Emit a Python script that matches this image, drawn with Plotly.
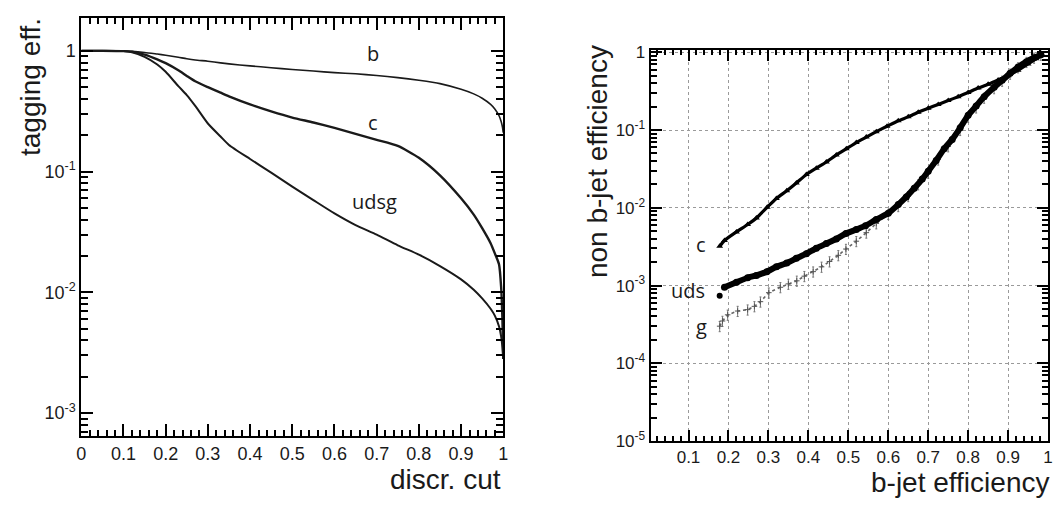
import plotly.graph_objects as go

# ---------------- data: left panel (tagging eff. vs discriminator cut) -------------
discr_cut = [0, 0.05, 0.1, 0.12, 0.15, 0.18, 0.2, 0.23, 0.25, 0.27, 0.3, 0.33, 0.35,
             0.4, 0.45, 0.5, 0.55, 0.6, 0.65, 0.7, 0.75, 0.8, 0.85, 0.9, 0.93, 0.95,
             0.97, 0.98, 0.99, 0.995, 0.998, 1.0]
eff_b = [1.0, 1.0, 0.995, 0.99, 0.97, 0.94, 0.92, 0.885, 0.86, 0.84, 0.82, 0.795, 0.78,
         0.75, 0.725, 0.70, 0.68, 0.66, 0.645, 0.625, 0.60, 0.57, 0.535, 0.48, 0.44, 0.405,
         0.36, 0.33, 0.29, 0.26, 0.235, 0.21]
eff_c = [1.0, 1.0, 0.995, 0.985, 0.93, 0.85, 0.79, 0.69, 0.62, 0.56, 0.50, 0.45, 0.42,
         0.36, 0.315, 0.28, 0.255, 0.23, 0.205, 0.183, 0.163, 0.13, 0.093, 0.06, 0.044,
         0.034, 0.0255, 0.021, 0.017, 0.011, 0.006, 0.0028]
eff_udsg = [1.0, 1.0, 0.995, 0.975, 0.89, 0.77, 0.67, 0.51, 0.43, 0.35, 0.25, 0.195, 0.166,
            0.127, 0.098, 0.075, 0.058, 0.045, 0.036, 0.030, 0.0245, 0.0205, 0.0165, 0.0128,
            0.0105, 0.0089, 0.0073, 0.0064, 0.0052, 0.0043, 0.0035, 0.0028]

# ---------------- data: right panel (non b-jet eff. vs b-jet eff.) -----------------
c_beff = [0.178, 0.19, 0.22, 0.248, 0.27, 0.297, 0.32, 0.346, 0.37, 0.395, 0.42, 0.445,
          0.47, 0.495, 0.52, 0.545, 0.57, 0.597, 0.625, 0.65, 0.675, 0.70, 0.725, 0.75,
          0.775, 0.80, 0.825, 0.85, 0.875, 0.90, 0.925, 0.95, 0.97, 0.985]
c_mis = [0.0032, 0.0038, 0.0049, 0.0061, 0.0074, 0.0102, 0.0132, 0.0166, 0.0209, 0.0269,
         0.0324, 0.0389, 0.0479, 0.0575, 0.0692, 0.0813, 0.0955, 0.112, 0.132, 0.148,
         0.170, 0.191, 0.214, 0.240, 0.269, 0.305, 0.347, 0.389, 0.442, 0.50, 0.59, 0.71,
         0.83, 0.93]

uds_beff = [0.178, 0.19, 0.22, 0.248, 0.27, 0.296, 0.32, 0.346, 0.37, 0.395, 0.42, 0.445,
            0.47, 0.494, 0.52, 0.543, 0.57, 0.60, 0.625, 0.645, 0.665, 0.685, 0.70, 0.72,
            0.74, 0.76, 0.78, 0.80, 0.82, 0.84, 0.865, 0.885, 0.905, 0.925, 0.946, 0.965,
            0.982]
uds_mis = [0.00074, 0.00095, 0.0011, 0.00126, 0.00135, 0.00151, 0.00174, 0.00195, 0.00224,
           0.00257, 0.00302, 0.00347, 0.00398, 0.00468, 0.00525, 0.00589, 0.00708, 0.0085,
           0.011, 0.0138, 0.0178, 0.0234, 0.0295, 0.0407, 0.0575, 0.0759, 0.107, 0.155,
           0.204, 0.269, 0.355, 0.437, 0.537, 0.646, 0.759, 0.851, 0.933]

g_beff = [0.178, 0.185, 0.198, 0.223, 0.248, 0.265, 0.28, 0.301, 0.33, 0.35, 0.371, 0.39,
          0.412, 0.433, 0.453, 0.475, 0.494, 0.52, 0.545, 0.57, 0.60, 0.625, 0.65, 0.675,
          0.70, 0.725, 0.75, 0.78, 0.80, 0.82, 0.84, 0.865, 0.885, 0.905, 0.925, 0.946,
          0.965, 0.982]
g_mis = [0.0003, 0.00035, 0.00042, 0.00047, 0.00049, 0.00054, 0.00062, 0.00081, 0.00095,
         0.00105, 0.00115, 0.00132, 0.00151, 0.00174, 0.00204, 0.00245, 0.00295, 0.00372,
         0.00479, 0.0063, 0.0083, 0.0105, 0.0141, 0.0200, 0.0282, 0.0417, 0.0617, 0.100,
         0.148, 0.195, 0.26, 0.345, 0.43, 0.53, 0.64, 0.75, 0.85, 0.93]

left_x_ticks = [0, 0.1, 0.2, 0.3, 0.4, 0.5, 0.6, 0.7, 0.8, 0.9, 1.0]
left_x_labels = ["0", "0.1", "0.2", "0.3", "0.4", "0.5", "0.6", "0.7", "0.8", "0.9", "1"]
right_x_ticks = [0.1, 0.2, 0.3, 0.4, 0.5, 0.6, 0.7, 0.8, 0.9, 1.0]
right_x_labels = ["0.1", "0.2", "0.3", "0.4", "0.5", "0.6", "0.7", "0.8", "0.9", "1"]
left_y_ticks = [1e-3, 1e-2, 1e-1, 1]
left_y_labels = ["10<sup>-3</sup>", "10<sup>-2</sup>", "10<sup>-1</sup>", "1"]
right_y_ticks = [1e-5, 1e-4, 1e-3, 1e-2, 1e-1, 1]
right_y_labels = ["10<sup>-5</sup>", "10<sup>-4</sup>", "10<sup>-3</sup>",
                  "10<sup>-2</sup>", "10<sup>-1</sup>", "1"]


def log_minor(lo_exp, hi_exp):
    vals = []
    for e in range(lo_exp, hi_exp + 1):
        for d in range(2, 10):
            vals.append(d * 10.0 ** e)
    return vals


def lin_minor(step=0.02):
    return [round(i * step, 4) for i in range(1, int(round(1 / step))) if i % 5 != 0]


W, H = 1061, 509
INK = "#1a1a1a"
TICKFONT = dict(family="Liberation Sans, Arial, sans-serif", size=18, color=INK)
TITLEFONT = dict(family="Liberation Sans, Arial, sans-serif", size=28, color=INK)
LABFONT = dict(family="Open Sans, Noto Sans, sans-serif", size=20, color=INK)

L_X = [77 / W, 503 / W]
L_Y = [1 - 444 / H, 1 - 11 / H]
R_X = [651.7 / W, 1053 / W]
R_Y = [1 - 449 / H, 1 - 45 / H]
L_XR = [0, 1]
L_YR = [-3.192, 0.275]
R_XR = [0.005, 1.0]
R_YR = [-5.0, 0.024]

fig = go.Figure()

for yy, w in ((eff_b, 1.6), (eff_c, 2.4), (eff_udsg, 2.0)):
    fig.add_trace(go.Scatter(x=discr_cut, y=yy, mode="lines",
                             line=dict(color=INK, width=w, shape="spline", smoothing=0.6),
                             xaxis="x", yaxis="y", showlegend=False))

fig.add_trace(go.Scatter(x=g_beff, y=g_mis, mode="lines+markers",
                         line=dict(color="#666666", width=1.6, dash="dot"),
                         marker=dict(symbol="cross-thin", size=4, line=dict(color="#555555", width=1)),
                         error_y=dict(type="percent", value=15, color="#777777", thickness=1, width=1),
                         xaxis="x2", yaxis="y2", showlegend=False))
fig.add_trace(go.Scatter(x=uds_beff[1:], y=uds_mis[1:], mode="lines+markers",
                         line=dict(color="#000000", width=6, shape="spline", smoothing=0.5),
                         marker=dict(symbol="circle", size=7, color="#000000"),
                         xaxis="x2", yaxis="y2", showlegend=False))
fig.add_trace(go.Scatter(x=uds_beff[:1], y=uds_mis[:1], mode="markers",
                         marker=dict(symbol="circle", size=6, color="#000000"),
                         xaxis="x2", yaxis="y2", showlegend=False))
fig.add_trace(go.Scatter(x=c_beff, y=c_mis, mode="lines+markers",
                         line=dict(color="#000000", width=3.2, shape="spline", smoothing=0.5),
                         marker=dict(symbol="triangle-up", size=6, color="#000000"),
                         xaxis="x2", yaxis="y2", showlegend=False))

frame = dict(showline=True, linecolor="#000000", linewidth=2, mirror="allticks",
             ticks="inside", tickcolor="#000000", tickwidth=2, zeroline=False,
             showgrid=False)
grid = dict(showgrid=True, gridcolor="#9a9a9a", griddash="dot", gridwidth=1)


def minor(vals, length):
    return dict(ticks="inside", ticklen=length, tickcolor="#000000", tickwidth=1.6,
                tickmode="array", tickvals=vals, showgrid=False)


fig.update_layout(
    width=W, height=H, margin=dict(l=0, r=0, t=0, b=0),
    paper_bgcolor="white", plot_bgcolor="white",
    xaxis=dict(domain=L_X, anchor="y", range=L_XR, tickmode="array",
               tickvals=left_x_ticks, ticktext=left_x_labels, ticklen=12,
               tickfont=TICKFONT, minor=minor(lin_minor(), 6), **frame),
    yaxis=dict(domain=L_Y, anchor="x", type="log", range=L_YR, tickmode="array",
               tickvals=left_y_ticks, ticktext=left_y_labels, ticklen=12,
               tickfont=TICKFONT, minor=minor(log_minor(-4, 0), 7), **frame),
    xaxis2=dict(domain=R_X, anchor="y2", range=R_XR, tickmode="array",
                tickvals=right_x_ticks, ticktext=right_x_labels, ticklen=11,
                tickfont=dict(TICKFONT, size=17),
                minor=minor([v for v in lin_minor() if v > R_XR[0]], 5),
                **{**frame, **grid}),
    yaxis2=dict(domain=R_Y, anchor="x2", type="log", range=R_YR, tickmode="array",
                tickvals=right_y_ticks, ticktext=right_y_labels, ticklen=11,
                tickfont=dict(TICKFONT, size=17),
                minor=minor(log_minor(-6, 0), 6),
                **{**frame, **grid}),
)

annotations = [
    dict(text="tagging eff.", x=25 / W, y=1 - 83 / H, textangle=-90, font=TITLEFONT),
    dict(text="discr. cut", x=503 / W, y=1 - 489 / H, xanchor="right", font=TITLEFONT),
    dict(text="non b-jet efficiency", x=598 / W, y=1 - 160 / H, textangle=-90, font=TITLEFONT),
    dict(text="b-jet efficiency", x=1056 / W, y=1 - 492 / H, xanchor="right", font=TITLEFONT),
    dict(text="b", x=371 / W, y=1 - 48 / H, font=LABFONT),
    dict(text="c", x=371 / W, y=1 - 120 / H, font=LABFONT),
    dict(text="udsg", x=373 / W, y=1 - 201 / H, font=LABFONT),
    dict(text="c", x=703 / W, y=1 - 246 / H, font=LABFONT),
    dict(text="uds", x=689 / W, y=1 - 293 / H, font=LABFONT),
    dict(text="g", x=703 / W, y=1 - 331 / H, font=LABFONT),
]
for a in annotations:
    a.setdefault("xanchor", "center")
    a.update(xref="paper", yref="paper", yanchor="middle", showarrow=False)
fig.update_layout(annotations=annotations)

fig.write_html("out.html")
